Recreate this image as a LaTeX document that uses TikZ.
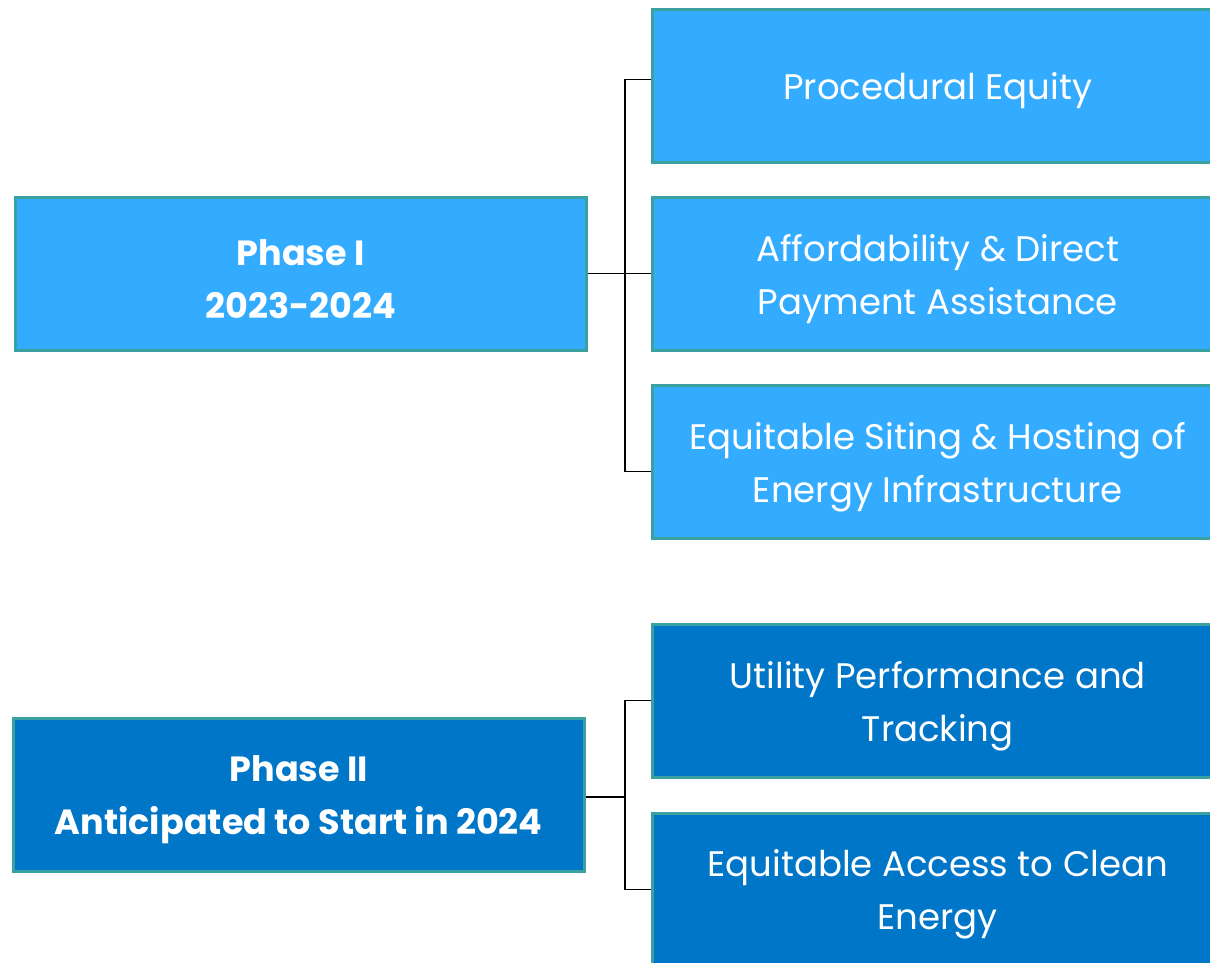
\documentclass[tikz,border=0pt]{standalone}
\usepackage{fontspec}
\setmainfont{Poppins}
\usetikzlibrary{calc}
\definecolor{lightfill}{RGB}{51,171,255}
\definecolor{darkfill}{RGB}{0,118,200}
\definecolor{edge}{RGB}{58,160,160}
\begin{document}
\begin{tikzpicture}[x=1pt,y=-1pt,
  box/.style={draw=edge,line width=2.5pt,minimum width=571pt,minimum height=153pt,inner sep=0pt,anchor=north west},
  lbox/.style={box,fill=lightfill},
  dbox/.style={box,fill=darkfill},
  txt/.style={text=white,align=center,inner sep=0pt,font=\fontsize{35.5}{53}\selectfont},
  phase/.style={txt,font=\fontsize{35}{53}\selectfont\bfseries},
  conn/.style={draw=black,line width=1.3pt}]
\useasboundingbox (0,0) rectangle (1210,962);
\begin{scope}
\clip (0,0) rectangle (1210,962);
\node[lbox] (p1) at (14,196) {};
\node[lbox] (a) at (651,8) {};
\node[lbox] (b) at (651,196) {};
\node[lbox] (c) at (651,384) {};
\node[dbox] (p2) at (12,717) {};
\node[dbox] (d) at (651,623) {};
\node[dbox] (e) at (651,812) {};
\node[phase] (p1t) at ([yshift=-5pt]p1.center) {Phase I\\2023-2024};
\node[txt] (at) at ([yshift=-5pt]a.center) {Procedural Equity};
\node[txt] (bt) at ([yshift=-5pt]b.center) {Affordability \& Direct\\Payment Assistance};
\node[txt] (ct) at ([yshift=-5pt]c.center) {Equitable Siting \& Hosting of\\Energy Infrastructure};
\node[phase] (p2t) at ([yshift=-5pt]p2.center) {Phase II\\Anticipated to Start in 2024};
\node[txt] (dt) at ([yshift=-5pt]d.center) {Utility Performance and\\Tracking};
\node[txt] (et) at ([yshift=-5pt]e.center) {Equitable Access to Clean\\Energy};
\coordinate (j1) at (625,272);
\coordinate (j2) at (625,797);
\coordinate (a1) at ($(a.west)+(0,-6.5)$);
\coordinate (c1) at ($(c.west)+(0,10)$);
\draw[conn] (p1.east) -- (b.west);
\draw[conn] (a1) -| (j1) |- (c1);
\draw[conn] (p2.east |- j2) -- (j2);
\draw[conn] (d.west) -| (j2) |- (e.west);
\end{scope}
\end{tikzpicture}
\end{document}
